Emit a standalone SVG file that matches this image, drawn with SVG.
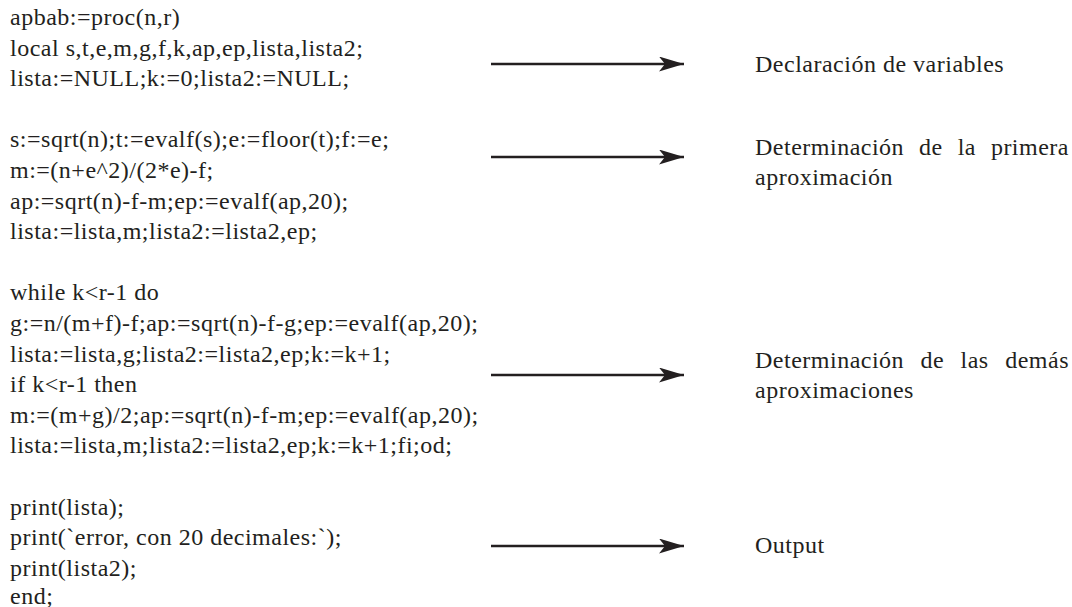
<svg xmlns="http://www.w3.org/2000/svg" width="1072" height="607" viewBox="0 0 1072 607">
<style>
text{font-family:'Liberation Serif','Times New Roman',Times,serif;font-size:24px;fill:#231f20;letter-spacing:0.5px}
.arr{stroke:#231f20;stroke-width:2.4;fill:none}
</style>
<defs>
<marker id="ah" markerUnits="userSpaceOnUse" markerWidth="28" markerHeight="16" refX="25" refY="7.5" orient="auto">
<path d="M0,0 L25,7.5 L0,15 L6,7.5 Z" fill="#231f20"/>
</marker>
</defs>
<rect width="1072" height="607" fill="#fff"/>
<g font-family="Liberation Serif, serif">
<g id="code1">
<text x="10" y="25">apbab:=proc(n,r)</text>
<text x="10" y="55.6">local s,t,e,m,g,f,k,ap,ep,lista,lista2;</text>
<text x="10" y="86.2">lista:=NULL;k:=0;lista2:=NULL;</text>
</g>
<g id="code2">
<text x="10" y="147.4">s:=sqrt(n);t:=evalf(s);e:=floor(t);f:=e;</text>
<text x="10" y="178">m:=(n+e^2)/(2*e)-f;</text>
<text x="10" y="208.6">ap:=sqrt(n)-f-m;ep:=evalf(ap,20);</text>
<text x="10" y="239.2">lista:=lista,m;lista2:=lista2,ep;</text>
</g>
<g id="code3">
<text x="10" y="300.4">while k&lt;r-1 do</text>
<text x="10" y="331">g:=n/(m+f)-f;ap:=sqrt(n)-f-g;ep:=evalf(ap,20);</text>
<text x="10" y="361.6">lista:=lista,g;lista2:=lista2,ep;k:=k+1;</text>
<text x="10" y="392.2">if k&lt;r-1 then</text>
<text x="10" y="422.8">m:=(m+g)/2;ap:=sqrt(n)-f-m;ep:=evalf(ap,20);</text>
<text x="10" y="453.4">lista:=lista,m;lista2:=lista2,ep;k:=k+1;fi;od;</text>
</g>
<g id="code4">
<text x="10" y="514.6">print(lista);</text>
<text x="10" y="545.2">print(`error, con 20 decimales:`);</text>
<text x="10" y="575.8">print(lista2);</text>
<text x="10" y="604">end;</text>
</g>
<g id="connectors">
<line class="arr" x1="491" y1="64" x2="684" y2="64" marker-end="url(#ah)"/>
<line class="arr" x1="491" y1="157" x2="684" y2="157" marker-end="url(#ah)"/>
<line class="arr" x1="491" y1="375" x2="684" y2="375" marker-end="url(#ah)"/>
<line class="arr" x1="491" y1="546" x2="684" y2="546" marker-end="url(#ah)"/>
</g>
<g id="label1">
<text x="755" y="72">Declaración de variables</text>
</g>
<g id="label2">
<text x="755" y="155">Determinación</text>
<text x="919" y="155">de</text>
<text x="957.7" y="155">la</text>
<text x="1069" y="155" text-anchor="end">primera</text>
<text x="755" y="185">aproximación</text>
</g>
<g id="label3">
<text x="755" y="368">Determinación</text>
<text x="920.4" y="368">de</text>
<text x="960.5" y="368">las</text>
<text x="1069" y="368" text-anchor="end">demás</text>
<text x="755" y="398">aproximaciones</text>
</g>
<g id="label4">
<text x="755" y="553">Output</text>
</g>
</g>
</svg>
